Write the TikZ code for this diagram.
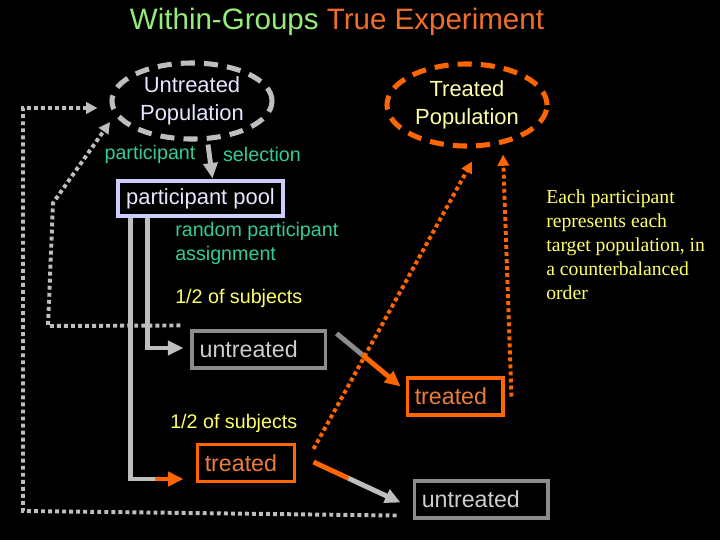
\documentclass[tikz,border=0pt]{standalone}
\usepackage{fontspec}
\setmainfont{Liberation Sans}
\newfontfamily\notefont{Liberation Serif}
\usetikzlibrary{arrows.meta,positioning,shapes.geometric,calc}
\definecolor{titlegreen}{RGB}{150,235,120}
\definecolor{titleorange}{RGB}{240,110,40}
\definecolor{slideorange}{RGB}{255,102,0}
\definecolor{poolblue}{RGB}{204,204,255}
\definecolor{pooltext}{RGB}{230,230,255}
\definecolor{selgreen}{RGB}{51,204,153}
\definecolor{noteyellow}{RGB}{255,255,102}
\definecolor{popyellow}{RGB}{255,255,170}
\definecolor{arrowgray}{RGB}{190,190,190}
\definecolor{boxgray}{RGB}{140,140,140}
\definecolor{untext}{RGB}{205,205,205}
\definecolor{trtext}{RGB}{235,125,60}

\begin{document}
\begin{tikzpicture}[x=0.025cm,y=-0.025cm,
    pop/.style={ellipse,line width=3.6pt,dash pattern=on 10pt off 6.5pt,
      align=center,inner sep=0pt,font=\fontsize{15.6}{20}\selectfont},
    box/.style={draw,line width=2.2pt,align=left,inner xsep=5.5pt,inner ysep=0pt,
      minimum height=0.925cm,font=\fontsize{16.5}{20}\selectfont},
    lbl/.style={font=\fontsize{14}{17}\selectfont,align=left,inner sep=0pt},
    arr/.style={-{Triangle[length=11pt,width=10pt]},line width=3.5pt},
    seg/.style={line width=3.5pt},
    dotline/.style={line width=2.8pt,dash pattern=on 2.8pt off 2.2pt},
    dotarr/.style={dotline,-{Triangle[length=8pt,width=8pt]}}
  ]
    \fill[black] (0,0) rectangle (720,540);
    \useasboundingbox (0,0) rectangle (720,540);

    \node[font=\fontsize{21}{25}\selectfont] (title) at (337,22)
      {\textcolor{titlegreen}{Within-Groups} \textcolor{titleorange}{True Experiment}};

    \node[pop,draw=arrowgray,text=pooltext,minimum width=4cm,minimum height=1.9cm]
      (untpop) at (192,101) {Untreated\\Population};
    \node[pop,draw=slideorange,text=popyellow,minimum width=4cm,minimum height=2.05cm]
      (trpop) at (467,105) {Treated\\Population};

    \node[lbl,text=selgreen] (partlbl) at (150,154) {participant};
    \node[lbl,text=selgreen] (sellbl) at (262,154) {selection};

    \node[draw=poolblue,line width=2.2pt,text=pooltext,inner sep=0pt,minimum width=4.125cm,
      minimum height=0.875cm,font=\fontsize{15.6}{20}\selectfont]
      (pool) at (200.5,198.5) {participant pool};
    \node[lbl,text=selgreen,anchor=north west] (assign) at (175,222)
      {random participant\\assignment};
    \node[lbl,text=noteyellow,anchor=west] (halfA) at (175,298) {1/2 of subjects};
    \node[lbl,text=noteyellow,anchor=west] (halfB) at (170,423) {1/2 of subjects};
    \node[lbl,text=noteyellow,anchor=north west,font=\notefont\fontsize{14}{17}\selectfont]
      (note) at (546,190) {Each participant\\represents each\\target population, in\\a counterbalanced\\order};

    \node[box,draw=boxgray,text=untext,text width=2.94cm] (untA) at (258.5,349.5) {untreated};
    \node[box,draw=slideorange,text=trtext,text width=2.01cm] (trA) at (455,396.5) {treated};
    \node[box,draw=slideorange,text=trtext,text width=2.06cm] (trB) at (246,463) {treated};
    \node[box,draw=boxgray,text=untext,text width=2.96cm] (untB) at (481,499.5) {untreated};

    \draw[arr,arrowgray] ($(untpop.south)+(16,3)$) -- ($(pool.north)+(12,-1)$);
    \draw[arr,arrowgray] ($(pool.south west)+(31,0)$) |- ($(untA.west)+(-7,-1.5)$);
    \draw[seg,arrowgray] ($(pool.south west)+(14,0)$) |- ($(trB.west)+(-41,16)$) coordinate (turnB);
    \draw[arr,slideorange] (turnB) -- ($(trB.west)+(-12,16)$);

    \coordinate (dA1) at ($(untA.north east)+(10,4)$);
    \coordinate (dA2) at ($(trA.north west)+(-5,10)$);
    \draw[seg,boxgray] (dA1) -- ($(dA1)!0.4!(dA2)$) coordinate (dAm);
    \draw[arr,slideorange] (dAm) -- (dA2);
    \coordinate (dB1) at ($(trB.east)+(17,-1)$);
    \coordinate (dB2) at ($(untB.west)+(-12,3)$);
    \draw[seg,slideorange] (dB1) -- ($(dB1)!0.4!(dB2)$) coordinate (dBm);
    \draw[arr,arrowgray] (dBm) -- (dB2);

    \draw[dotarr,slideorange] ($(trB.north east)+(17,6)$) -- ($(trpop.south)+(5,13)$);
    \draw[dotarr,slideorange] ($(trA.east)+(7,0)$) -- ($(trpop.south)+(36,6)$);
    \draw[dotarr,arrowgray] ($(untA.north west)+(-10,-4)$) -- (48,326) -- (53,203)
      -- ($(untpop.center)+(-82,21)$);
    \draw[dotarr,arrowgray] ($(untB.west)+(-16,16)$) -- (23,511) -- (23,108)
      -- ($(untpop.west)+(-12,7)$);
  \end{tikzpicture}
\end{document}
